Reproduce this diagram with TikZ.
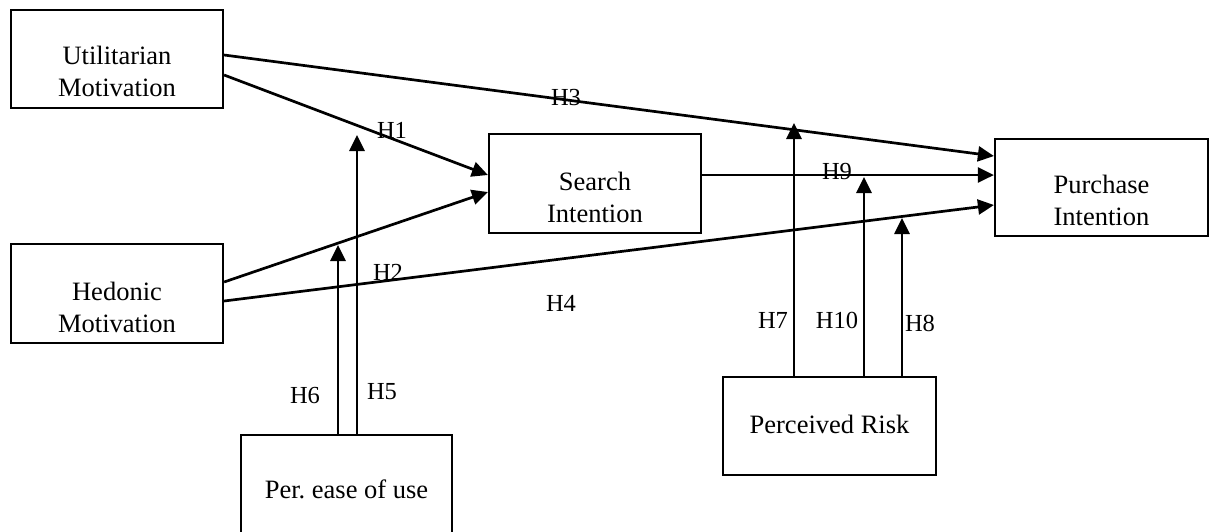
\documentclass[tikz,border=0pt]{standalone}
\usepackage{fontspec}
\setmainfont{Liberation Serif}
\usetikzlibrary{arrows.meta}
\frenchspacing
\begin{document}
\begin{tikzpicture}[x=1pt,y=-1pt,
  box/.style={draw=black, line width=2.2pt, minimum width=212pt, minimum height=98pt, inner sep=0pt},
  boxtxt/.style={align=center, font=\fontsize{26.5}{32}\selectfont},
  hlbl/.style={font=\fontsize{24.5}{28}\selectfont, inner sep=0pt},
  arr/.style={line width=2.7pt, -{Triangle[length=16pt,width=15pt]}}]
\useasboundingbox (0,0) rectangle (1213,531);
% boxes
\node[box, label={[boxtxt, yshift=-12pt]center:Utilitarian\\Motivation}] (u) at (117,59) {};
\node[box, minimum height=99pt, label={[boxtxt, yshift=-14pt]center:Hedonic\\Motivation}] (h) at (117,293.5) {};
\node[box, minimum height=99pt, label={[boxtxt, yshift=-14pt]center:Search\\Intention}] (s) at (595,183.5) {};
\node[box, minimum width=213pt, minimum height=97pt, label={[boxtxt, yshift=-13pt]center:Purchase\\Intention}] (p) at (1101.5,187.5) {};
\node[box, minimum width=211pt, minimum height=110pt, label={[boxtxt, yshift=1pt]center:Per. ease of use}] (pe) at (346.5,490) {};
\node[box, minimum width=213pt, minimum height=98pt, label={[boxtxt, yshift=2pt]center:Perceived Risk}] (r) at (829.5,426) {};
% direct paths
\draw[arr] ([yshift=4pt]u.east) -- ([yshift=31.5pt]p.west);
\draw[arr] ([yshift=-16pt]u.east) -- ([yshift=8.5pt]s.west);
\draw[arr] ([yshift=11.5pt]h.east) -- ([yshift=-8.5pt]s.west);
\draw[arr] ([yshift=-7.5pt]h.east) -- ([yshift=-17.5pt]p.west);
\draw[arr] ([yshift=8.5pt]s.east) -- ([yshift=12.5pt]p.west);
% moderating arrows
\coordinate (e6) at (338,245);
\coordinate (e5) at (357,135);
\coordinate (e7) at (794,123);
\coordinate (e10) at (864,177);
\coordinate (e8) at (902,218);
\draw[arr] (e6 |- pe.north) -- (e6);
\draw[arr] (e5 |- pe.north) -- (e5);
\draw[arr] (e7 |- r.north) -- (e7);
\draw[arr] (e10 |- r.north) -- (e10);
\draw[arr] (e8 |- r.north) -- (e8);
% labels
\node[hlbl] (l1) at (392,130) {H1};
\node[hlbl] (l3) at (566,98) {H3};
\node[hlbl] (l9) at (837,172) {H9};
\node[hlbl] (l2) at (388,272) {H2};
\node[hlbl] (l4) at (561,303) {H4};
\node[hlbl] (l7) at (773,320) {H7};
\node[hlbl] (l10) at (837,320) {H10};
\node[hlbl] (l8) at (920,323) {H8};
\node[hlbl] (l6) at (305,395) {H6};
\node[hlbl] (l5) at (382,392) {H5};
\end{tikzpicture}
\end{document}
